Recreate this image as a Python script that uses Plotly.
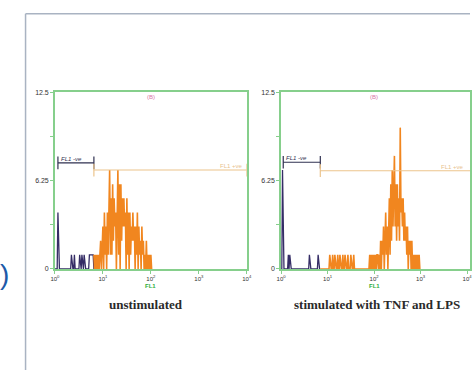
import plotly.graph_objects as go

W, H = 475, 373

# FL1 is recorded on 256 log channels spanning four decades
decade_ticks = [0, 64, 128, 192, 256]
decade_labels = ["10<sup>0</sup>", "10<sup>1</sup>", "10<sup>2</sup>", "10<sup>3</sup>", "10<sup>4</sup>"]
count_ticks = [0, 3.125, 6.25, 9.375, 12.5]
count_labels = ["0", "", "6.25", "", "12.5"]

# Unstimulated cells: occupied FL1 channels and event counts
unstim_channels = [4, 22, 26, 33, 36, 39, 46, 47, 48, 49, 50, 51,
                   52, 54, 56, 58, 60, 61, 63,
                   64, 66, 67, 68, 70, 71, 72,
                   73, 74, 75, 76, 77, 78, 79, 80, 81, 83,
                   84, 85, 86, 88, 89, 90, 91, 92, 93, 94, 96, 97,
                   98, 100, 101, 102, 103, 104, 105, 106, 108, 109, 110, 112,
                   113, 114, 116, 117, 118, 120, 122, 124, 126, 128]
unstim_counts = [4, 1, 1, 1, 1, 1, 1, 1, 1, 1, 1, 1,
                 1, 1, 1, 1, 1, 2, 1,
                 3, 4, 1, 3, 4, 1, 5,
                 7, 1, 5, 1, 6, 2, 5, 3, 4, 5,
                 7, 1, 6, 6, 2, 5, 3, 5, 3, 4, 5, 1,
                 4, 4, 1, 3, 2, 4, 2, 3, 3, 1, 4, 3,
                 1, 2, 3, 1, 2, 1, 2, 1, 1, 1]

# Cells stimulated with TNF and LPS
stim_channels = [2, 10, 12, 39, 51,
                 67, 71, 74, 78, 81, 85, 88, 92, 96, 100,
                 122, 124, 126, 128, 130, 132,
                 133, 135, 137, 139, 140, 141, 143, 144, 145, 146, 148,
                 149, 150, 151, 152, 153, 154, 155, 156, 157, 158, 159, 160,
                 161, 162, 163, 164, 165, 166, 167, 168, 169, 170, 171, 172,
                 173, 174, 176, 177, 178, 180, 182, 184, 186, 188, 190]
stim_counts = [7, 1, 1, 1, 1,
               1, 1, 1, 1, 1, 1, 1, 1, 1, 1,
               1, 1, 1, 1, 1, 1,
               1, 1, 2, 2, 1, 3, 2, 4, 1, 3, 4,
               5, 1, 6, 2, 7, 3, 6, 8, 3, 6, 2, 6,
               3, 5, 2, 10, 4, 5, 3, 5, 2, 4, 2, 3,
               1, 3, 2, 1, 2, 2, 1, 1, 1, 1, 1]

# Histogram markers: (first channel, last channel, count level)
unstim_neg_marker = (4, 52, 7.5)
unstim_pos_marker = (52, 256, 7.0)
stim_neg_marker = (3, 54, 7.55)
stim_pos_marker = (54, 262, 6.95)

panel_titles = ["unstimulated", "stimulated with TNF and LPS"]

FRAME = "#86cf8c"
ORANGE = "#f1861f"
NAVY = "#352d66"


def px_x(x):
    return x / W


def px_y(y):
    return 1 - y / H


fig = go.Figure()

panels = [
    ("x", "y", unstim_channels, unstim_counts, unstim_neg_marker, unstim_pos_marker),
    ("x2", "y2", stim_channels, stim_counts, stim_neg_marker, stim_pos_marker),
]

for xa, ya, chans, cnts, neg, pos in panels:
    gate = pos[0]
    lookup = dict(zip(chans, cnts))
    # events below the positive marker
    xs = list(range(0, gate + 1))
    ys = [lookup.get(c, 0) if c < gate else 0 for c in xs]
    fig.add_trace(go.Scatter(x=xs, y=ys, mode="lines", xaxis=xa, yaxis=ya,
                             line=dict(color=NAVY, width=1.3), hoverinfo="skip"))
    # events inside the positive marker
    last = max(chans) + 1
    xs = list(range(gate, last + 1))
    ys = [lookup.get(c, 0) for c in xs]
    fig.add_trace(go.Scatter(x=xs, y=ys, mode="lines", xaxis=xa, yaxis=ya,
                             line=dict(color=ORANGE, width=1.6), hoverinfo="skip"))
    # marker brackets
    for (a, b, lvl), col in ((neg, "#2f3050"), (pos, "#ecc48c")):
        fig.add_trace(go.Scatter(
            x=[a, a, None, a, b, None, b, b],
            y=[lvl + 0.45, lvl - 0.45, None, lvl, lvl, None, lvl + 0.45, lvl - 0.45],
            mode="lines", xaxis=xa, yaxis=ya, line=dict(color=col, width=1.2),
            hoverinfo="skip", cliponaxis=False))
    fig.add_annotation(x=neg[0] + 1, y=neg[2], xref=xa, yref=ya, text="<i>FL1 -ve</i>",
                       showarrow=False, xanchor="left", yanchor="bottom", yshift=-1,
                       font=dict(size=6, color="#2f3050", family="Liberation Sans"))
    fig.add_annotation(x=min(pos[1], 256) - 2, y=pos[2], xref=xa, yref=ya, text="FL1 +ve",
                       showarrow=False, xanchor="right", yanchor="bottom", yshift=-1,
                       font=dict(size=6, color="#e8c28e", family="Liberation Sans"))
    # panel id at the top
    fig.add_annotation(x=128, y=px_y(95), xref=xa, yref="paper", text="(B)",
                       showarrow=False, xanchor="center", yanchor="middle",
                       font=dict(size=6, color="#d874a8", family="Liberation Sans"))
    # FL1 axis name
    fig.add_annotation(x=128, y=px_y(287), xref=xa, yref="paper", text="<b>FL1</b>",
                       showarrow=False, xanchor="center", yanchor="middle",
                       font=dict(size=6, color="#2fae3a", family="Liberation Sans"))

axis_common = dict(showgrid=False, zeroline=False, showline=True, mirror=True,
                   linecolor=FRAME, linewidth=1.5, ticks="outside", tickcolor=FRAME,
                   ticklen=3, tickwidth=1)

xcommon = dict(axis_common, tickmode="array", tickvals=decade_ticks, ticktext=decade_labels,
               tickfont=dict(size=6, color="#333333", family="Liberation Sans"))
ycommon = dict(axis_common, tickmode="array", tickvals=count_ticks, ticktext=count_labels,
               range=[0, 12.5], tickfont=dict(size=7, color="#333333", family="Liberation Sans"))

y_dom = [px_y(270), px_y(90)]

fig.update_layout(
    width=W, height=H, margin=dict(l=0, r=0, t=0, b=0),
    paper_bgcolor="white", plot_bgcolor="white", showlegend=False,
    xaxis=dict(xcommon, domain=[px_x(51), px_x(247)], range=[0, 256], anchor="y"),
    yaxis=dict(ycommon, domain=y_dom, anchor="x"),
    xaxis2=dict(xcommon, domain=[px_x(282), 1.0], range=[0, 260], anchor="y2"),
    yaxis2=dict(ycommon, domain=y_dom, anchor="x2"),
)

# panel captions
for cx, title in zip([144, 380], panel_titles):
    fig.add_annotation(x=px_x(cx), y=px_y(306), xref="paper", yref="paper", text=f"<b>{title}</b>",
                       showarrow=False, xanchor="center", yanchor="middle",
                       font=dict(size=13, color="#2a2a2a", family="Liberation Serif"))

# page border and the edge of the neighbouring figure label
fig.add_shape(type="line", xref="paper", yref="paper", x0=px_x(21), x1=px_x(21), y0=px_y(10), y1=0,
              line=dict(color="#a9b3c2", width=1.5))
fig.add_shape(type="line", xref="paper", yref="paper", x0=px_x(21), x1=1, y0=px_y(10), y1=px_y(10),
              line=dict(color="#a9b3c2", width=1.5))
fig.add_annotation(x=px_x(6), y=px_y(276), xref="paper", yref="paper", text=")", showarrow=False,
                   xanchor="right", yanchor="middle",
                   font=dict(size=28, color="#1d5aa8", family="Liberation Sans"))

fig.write_html("out.html")
